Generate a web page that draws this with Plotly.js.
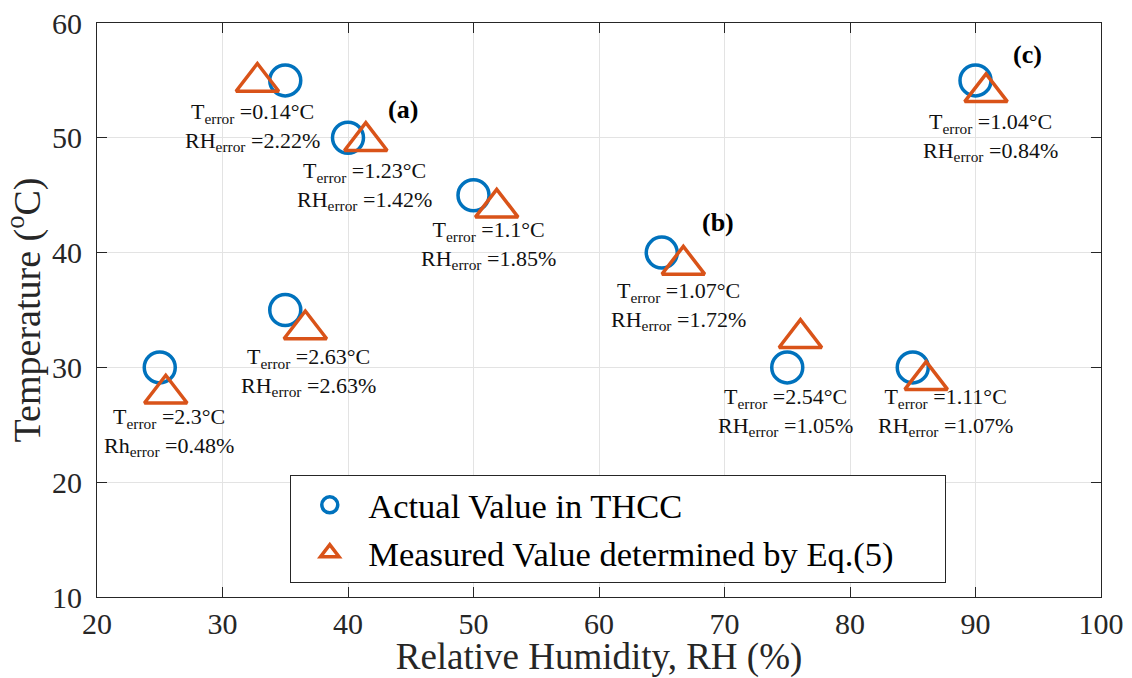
<!DOCTYPE html>
<html>
<head>
<meta charset="utf-8">
<script src="https://cdn.plot.ly/plotly-3.0.1.min.js"></script>
<style>html,body{margin:0;padding:0;background:#fff;overflow:hidden;}#chart{width:1132px;height:678px;}</style>
</head>
<body>
<div id="chart"></div>
<script>
// Actual set points in the THCC
const actualRH = [25, 35, 35, 40, 50, 65, 75, 85, 90];
const actualT  = [30, 55, 35, 50, 45, 40, 30, 30, 55];
// Values measured / determined by Eq.(5)
const measuredRH = [25.48, 32.78, 36.6, 41.42, 51.85, 66.72, 76.05, 86.07, 90.84];
const measuredT  = [27.7, 54.86, 33.3, 49.7, 43.9, 38.93, 32.54, 28.89, 53.96];
// Error labels
const tErrors  = ['2.3', '0.14', '2.63', '1.23', '1.1', '1.07', '2.54', '1.11', '1.04'];
const rhErrors = ['0.48', '2.22', '2.63', '1.42', '1.85', '1.72', '1.05', '1.07', '0.84'];
const rhPrefix = ['Rh', 'RH', 'RH', 'RH', 'RH', 'RH', 'RH', 'RH', 'RH'];
// Label placement (data coordinates)
const labelX = [25.76, 32.41, 36.84, 41.3, 51.18, 66.32, 74.87, 87.63, 91.18];
const labelY = [24.4, 50.96, 29.6, 45.82, 40.67, 35.35, 26.14, 26.14, 50.04];
// Panel tags
const tagText = ['(a)', '(b)', '(c)'];
const tagX = [44.41, 69.51, 94.17];
const tagY = [52.44, 42.59, 57.24];

const FONT = 'Liberation Serif';
const INK = '#262626';

const traces = [
  {
    x: actualRH, y: actualT, type: 'scatter', mode: 'markers',
    name: 'Actual Value in THCC',
    marker: {symbol: 'circle-open', size: 31, color: '#0072BD', line: {width: 3.5, color: '#0072BD'}}
  },
  {
    x: measuredRH, y: measuredT, type: 'scatter', mode: 'markers',
    name: 'Measured Value determined by Eq.(5)',
    marker: {symbol: 'triangle-up-open', size: 37, color: '#D95319', line: {width: 3.5, color: '#D95319'}}
  }
];

const annotations = [];
for (let i = 0; i < tErrors.length; i++) {
  annotations.push({
    x: labelX[i], y: labelY[i], xref: 'x', yref: 'y', showarrow: false,
    xanchor: 'center', yanchor: 'middle', align: 'center',
    text: 'T<sub>error</sub> =' + tErrors[i] + '°C<br>' + rhPrefix[i] + '<sub>error</sub> =' + rhErrors[i] + '%',
    font: {family: FONT, size: 22, color: '#111'}
  });
}
for (let i = 0; i < tagText.length; i++) {
  annotations.push({
    x: tagX[i], y: tagY[i], xref: 'x', yref: 'y', showarrow: false,
    xanchor: 'center', yanchor: 'middle',
    text: '<b>' + tagText[i] + '</b>',
    font: {family: FONT, size: 26, color: '#000'}
  });
}

const axisCommon = {
  showline: true, linecolor: INK, linewidth: 1, mirror: 'ticks',
  ticks: 'inside', ticklen: 10, tickwidth: 1, tickcolor: INK,
  showgrid: true, gridcolor: '#e3e3e3', gridwidth: 1,
  zeroline: false,
  tickfont: {family: FONT, size: 30, color: INK},
  automargin: false
};

const layout = {
  width: 1132, height: 678,
  paper_bgcolor: '#fff', plot_bgcolor: '#fff',
  margin: {l: 97, r: 31, t: 23, b: 81},
  showlegend: true,
  xaxis: Object.assign({}, axisCommon, {
    range: [20, 100], dtick: 10, tick0: 20,
    ticklabelstandoff: 0,
    title: {text: 'Relative Humidity, RH (%)', font: {family: FONT, size: 37, color: INK}, standoff: 26}
  }),
  yaxis: Object.assign({}, axisCommon, {
    range: [10, 60], dtick: 10, tick0: 10,
    ticklabelstandoff: 8,
    title: {text: 'Temperature (<sup>o</sup>C)', font: {family: FONT, size: 38, color: INK}, standoff: 2}
  }),
  legend: {
    orientation: 'h',
    x: 0.1925, y: 0.2127, xanchor: 'left', yanchor: 'top',
    bgcolor: '#fff', bordercolor: INK, borderwidth: 1,
    font: {family: FONT, size: 34.5, color: '#000'},
    itemwidth: 67, itemsizing: 'trace',
    entrywidth: 572, entrywidthmode: 'pixels'
  },
  annotations: annotations
};

Plotly.newPlot('chart', traces, layout, {displayModeBar: false, staticPlot: true});
</script>
</body>
</html>
